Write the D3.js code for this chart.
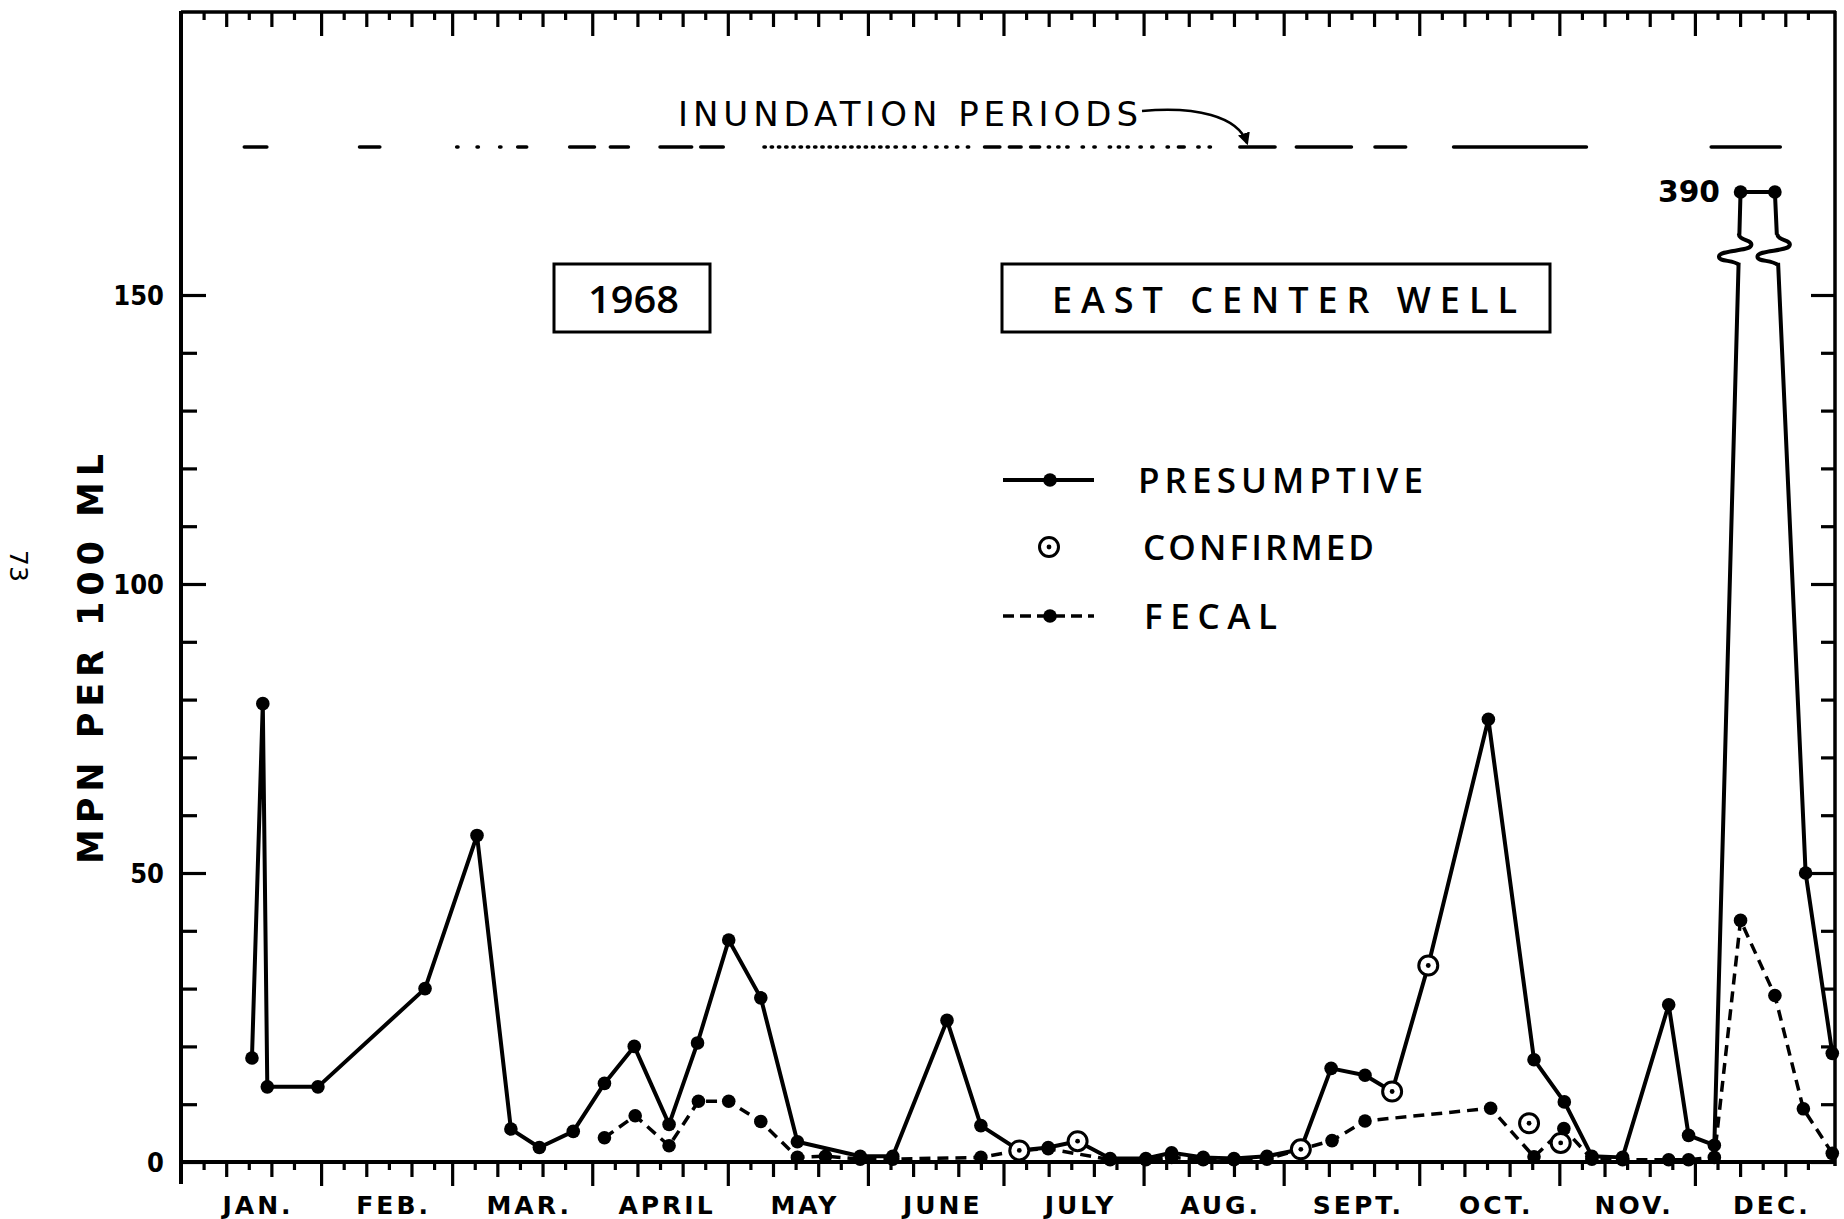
<!DOCTYPE html>
<html>
<head>
<meta charset="utf-8">
<script src="https://cdn.jsdelivr.net/npm/d3@7/dist/d3.min.js"></script>
<style>
  body { margin: 0; background: #fff; }
  text { font-family: "DejaVu Sans", sans-serif; fill: #000; }
</style>
</head>
<body>
<script>
// 1968 - East Center Well, MPN per 100 ml

var months = ["JAN.", "FEB.", "MAR.", "APRIL", "MAY", "JUNE", "JULY", "AUG.", "SEPT.", "OCT.", "NOV.", "DEC."];
var monthStarts = [0, 31, 60, 91, 121, 152, 182, 213, 244, 274, 305, 335, 366]; // day of year, 1968 (leap)
var yTicks = [0, 10, 20, 30, 40, 50, 60, 70, 80, 90, 100, 110, 120, 130, 140, 150];
var yLabels = [0, 50, 100, 150];

// presumptive (solid line)
var presDays = [15.7, 18.1, 19.1, 30.3, 54, 65.5, 73, 79.3, 86.8, 93.7, 100.3, 108, 114.3, 121.2, 128.3, 136.4,
  150.3, 157.5, 169.5, 177, 185.5, 191.9, 198.4, 205.6, 213.5, 219.2, 226.2, 233, 240.3, 247.8, 254.5, 262,
  268, 276, 289.3, 299.4, 306.1, 312.2, 319, 329.2, 333.6, 339.3, 345.1, 352.7, 359.5, 365.4];
var presVals = [18, 79.3, 13, 13, 30, 56.5, 5.7, 2.5, 5.3, 13.6, 20, 6.5, 20.6, 38.4, 28.4, 3.5,
  1, 1, 24.5, 6.3, 2.0, 2.5, 3.6, 0.6, 0.6, 1.6, 0.8, 0.6, 1, 2.2, 16.2, 15,
  12.2, 34, 76.6, 17.7, 10.4, 1, 0.8, 27.2, 4.6, 2.9, 390, 390, 50, 18.8];

// confirmed (open circles)
var confDays = [185.5, 198.4, 247.8, 268, 276, 298.3, 305.3];
var confVals = [2.0, 3.6, 2.2, 12.2, 34, 6.7, 3.3];

// fecal (dashed line)
var fecalDays = [93.7, 100.5, 108, 114.5, 121.2, 128.3, 136.4, 142.6, 150.3, 157.5, 177, 185.5, 191.9,
  205.6, 213.5, 219.2, 226.2, 233, 240.3, 247.8, 254.7, 262, 289.8, 299.4, 306, 312.2, 319, 329.2,
  333.6, 339.3, 345.1, 352.7, 359, 365.4];
var fecalVals = [4.2, 8, 2.8, 10.5, 10.5, 7, 0.8, 1, 0.5, 0.5, 0.8, 2.0, 2.3,
  0.4, 0.4, 0.8, 0.4, 0.4, 0.5, 2.2, 3.7, 7.1, 9.3, 0.9, 5.8, 0.5, 0.4, 0.4,
  0.4, 0.8, 41.8, 28.8, 9.2, 1.5];

// inundation periods, [from, to] in days
var inundation = [[14, 19], [39.5, 44], [61, 61.3], [65.5, 65.8], [70.5, 70.8], [74.5, 76.5],
  [86, 91.5], [95, 99], [106, 113], [115, 120],
  [129, 129.3], [130.6, 130.9], [132.2, 132.5], [133.8, 134.1], [135.4, 135.7], [137, 137.3], [138.6, 138.9],
  [140.2, 140.5], [141.8, 142.1], [143.4, 143.7], [145, 145.3], [146.6, 146.9], [148.2, 148.5], [149.8, 150.1],
  [151.4, 151.7], [153, 153.3], [154.6, 154.9], [156.2, 156.5], [158, 158.3], [160, 160.3], [162, 162.3],
  [164.5, 164.8], [167, 167.3], [169.2, 169.5], [171.6, 171.9], [174, 174.3], [177.8, 181.2], [183.3, 185.9],
  [188, 190], [191.9, 192.2], [194, 194.3], [196, 196.3], [199.4, 199.7], [202, 202.3], [205.4, 205.7],
  [207.4, 207.7], [209.3, 209.6], [212.2, 212.5], [214.8, 215.1], [218.2, 218.5], [220.7, 222],
  [225, 225.3], [227.5, 227.8], [234.3, 242.1], [246.8, 259], [264.2, 271], [281.6, 311], [338.6, 353.9]];

var breakVal = 158;

var svg = d3.select("body").append("svg")
    .attr("width", 1844)
    .attr("height", 1219);

var x = d3.scaleLinear().domain([0, 366]).range([181, 1835]);
// broken axis: everything above the break is squeezed so 390 sits just under the inundation line
var y = d3.scaleLinear().domain([0, breakVal, 390]).range([1162, 1162 - breakVal * 5.78, 192]);

//frame
svg.append("line").attr("x1", 181).attr("x2", 181).attr("y1", 11).attr("y2", 1184)
    .attr("stroke", "#000").attr("stroke-width", 4);
svg.append("line").attr("x1", 181).attr("x2", 1836).attr("y1", 12).attr("y2", 12)
    .attr("stroke", "#000").attr("stroke-width", 3.5);
svg.append("line").attr("x1", 1835).attr("x2", 1835).attr("y1", 11).attr("y2", 1166)
    .attr("stroke", "#000").attr("stroke-width", 3.5);
svg.append("line").attr("x1", 181).attr("x2", 1835).attr("y1", 1162).attr("y2", 1162)
    .attr("stroke", "#000").attr("stroke-width", 4);

// day ticks: 5 day steps, month ends long
var longT = [], medT = [], shortT = [];
for (var m = 0; m < 12; m++) {
    var s = monthStarts[m], e = monthStarts[m + 1];
    [5, 10, 15, 20, 25].forEach(function(k) {
        if (s + k < e - 1) {
            if (k == 10 || k == 20) medT.push(s + k); else shortT.push(s + k);
        }
    });
    if (m > 0) longT.push(s);
}

function dayTicks(yPos) {
    [[shortT, 8], [medT, 15], [longT, 24]].forEach(function(p) {
        var g = svg.append("g")
            .attr("transform", "translate(0," + yPos + ")")
            .call(d3.axisBottom(x).tickValues(p[0]).tickSize(p[1]).tickFormat(""));
        g.select(".domain").remove();
        g.selectAll("line").attr("stroke", "#000").attr("stroke-width", 3.2);
    });
}
dayTicks(12);
dayTicks(1162);

// month names
svg.append("g").selectAll("text")
    .data(months)
    .enter().append("text")
    .attr("x", function(d, i) { return x((monthStarts[i] + monthStarts[i + 1]) / 2) + 7; })
    .attr("y", 1214)
    .attr("text-anchor", "middle")
    .style("font-size", "25px")
    .style("font-weight", "bold")
    .style("letter-spacing", "3px")
    .text(function(d) { return d; });

// y axis, ticks inside the frame
var gy = svg.append("g").attr("transform", "translate(181,0)")
    .call(d3.axisLeft(y).tickValues(yTicks.filter(function(v) { return v % 50 != 0; })).tickSize(-16).tickFormat(""));
gy.select(".domain").remove();
gy.selectAll("line").attr("stroke", "#000").attr("stroke-width", 3.2);

var gy2 = svg.append("g").attr("transform", "translate(181,0)")
    .call(d3.axisLeft(y).tickValues(yLabels).tickSize(-25).tickPadding(17));
gy2.select(".domain").remove();
gy2.selectAll("line").attr("stroke", "#000").attr("stroke-width", 3.2);
gy2.selectAll("text")
    .style("font-family", "'DejaVu Sans Condensed', 'DejaVu Sans', sans-serif")
    .style("font-size", "27px")
    .style("font-weight", "bold")
    .attr("dy", "0.36em");

// right side ticks
var gr = svg.append("g").attr("transform", "translate(1835,0)")
    .call(d3.axisLeft(y).tickValues(yTicks).tickSize(14).tickFormat(""));
gr.select(".domain").remove();
gr.selectAll("line").attr("stroke", "#000").attr("stroke-width", 3.2)
    .attr("x2", function(d) { return d % 50 == 0 ? -24 : -14; });

// axis title
svg.append("text")
    .attr("transform", "translate(103,659) rotate(-90)")
    .attr("text-anchor", "middle")
    .attr("textLength", 410)
    .attr("lengthAdjust", "spacing")
    .style("font-size", "35px")
    .style("font-weight", "bold")
    .text("MPN  PER  100  ML");

// page number
svg.append("text")
    .attr("transform", "translate(10,566) rotate(90)")
    .attr("text-anchor", "middle")
    .style("font-size", "25px")
    .text("73");

// inundation periods
svg.append("g").selectAll("line")
    .data(inundation)
    .enter().append("line")
    .attr("x1", function(d) { return x(d[0]); })
    .attr("x2", function(d) { return x(d[1]); })
    .attr("y1", 147).attr("y2", 147)
    .attr("stroke", "#000")
    .attr("stroke-width", 3.5)
    .attr("stroke-linecap", "round");

svg.append("text")
    .attr("x", 678).attr("y", 126)
    .attr("textLength", 460)
    .attr("lengthAdjust", "spacing")
    .style("font-size", "34px")
    .text("INUNDATION  PERIODS");

svg.append("defs").append("marker")
    .attr("id", "head")
    .attr("viewBox", "0 0 10 10")
    .attr("refX", 8).attr("refY", 5)
    .attr("markerWidth", 5).attr("markerHeight", 5)
    .attr("orient", "auto")
    .append("path").attr("d", "M0,0L10,5L0,10z").attr("fill", "#000");

svg.append("path")
    .attr("d", "M1142,111 C1195,106 1238,116 1247,143")
    .attr("fill", "none")
    .attr("stroke", "#000")
    .attr("stroke-width", 2.5)
    .attr("marker-end", "url(#head)");

// title boxes
svg.append("rect").attr("x", 554).attr("y", 264).attr("width", 156).attr("height", 68)
    .attr("fill", "none").attr("stroke", "#000").attr("stroke-width", 3);
svg.append("text").attr("x", 588).attr("y", 313)
    .attr("textLength", 91).attr("lengthAdjust", "spacingAndGlyphs")
    .style("font-family", "'Open Sans', sans-serif")
    .style("font-size", "37px").style("font-weight", "600").text("1968");

svg.append("rect").attr("x", 1002).attr("y", 264).attr("width", 548).attr("height", 68)
    .attr("fill", "none").attr("stroke", "#000").attr("stroke-width", 3);
svg.append("text").attr("x", 1052).attr("y", 313)
    .attr("textLength", 465).attr("lengthAdjust", "spacing")
    .style("font-family", "'Open Sans', sans-serif")
    .style("font-size", "36px").style("font-weight", "600").text("EAST  CENTER  WELL");

// series
var pres = presDays.map(function(d, i) { return {day: d, val: presVals[i]}; });
var fecal = fecalDays.map(function(d, i) { return {day: d, val: fecalVals[i]}; });
var conf = confDays.map(function(d, i) { return {day: d, val: confVals[i]}; });

var line = d3.line()
    .x(function(d) { return x(d.day); })
    .y(function(d) { return y(d.val); });

svg.append("path")
    .datum(fecal)
    .attr("d", line)
    .attr("fill", "none")
    .attr("stroke", "#000")
    .attr("stroke-width", 3.5)
    .attr("stroke-dasharray", "11,7");

svg.append("path")
    .datum(pres)
    .attr("d", line)
    .attr("fill", "none")
    .attr("stroke", "#000")
    .attr("stroke-width", 4)
    .attr("stroke-linejoin", "round");

svg.append("g").selectAll("circle")
    .data(fecal)
    .enter().append("circle")
    .attr("cx", function(d) { return x(d.day); })
    .attr("cy", function(d) { return y(d.val); })
    .attr("r", 6.8)
    .attr("fill", "#000");

svg.append("g").selectAll("circle")
    .data(pres)
    .enter().append("circle")
    .attr("cx", function(d) { return x(d.day); })
    .attr("cy", function(d) { return y(d.val); })
    .attr("r", 6.8)
    .attr("fill", "#000");

// break marks where the presumptive line crosses into the squeezed part
for (var i = 0; i < pres.length - 1; i++) {
    var a = pres[i], b = pres[i + 1];
    if ((a.val - breakVal) * (b.val - breakVal) < 0) {
        var ya = y(a.val), yb = y(b.val), cy = y(breakVal);
        var cx = x(a.day) + (x(b.day) - x(a.day)) * (cy - ya) / (yb - ya);
        svg.append("rect").attr("x", cx - 4).attr("y", cy - 14).attr("width", 8).attr("height", 28).attr("fill", "#fff");
        svg.append("path")
            .attr("d", "M" + cx + "," + (cy - 15) +
                " C" + (cx - 1) + "," + (cy - 8) + " " + (cx + 15) + "," + (cy - 9) + " " + (cx + 12) + "," + (cy - 3) +
                " C" + (cx + 9) + "," + (cy + 3) + " " + (cx - 20) + "," + (cy + 1) + " " + (cx - 20) + "," + (cy + 8) +
                " C" + (cx - 20) + "," + (cy + 13) + " " + (cx - 6) + "," + (cy + 11) + " " + cx + "," + (cy + 16))
            .attr("fill", "none").attr("stroke", "#000").attr("stroke-width", 4);
    }
}

// confirmed circles on top
var cg = svg.append("g").selectAll("g")
    .data(conf)
    .enter().append("g")
    .attr("transform", function(d) { return "translate(" + x(d.day) + "," + y(d.val) + ")"; });
cg.append("circle").attr("r", 9.5).attr("fill", "#fff").attr("stroke", "#000").attr("stroke-width", 3);
cg.append("circle").attr("r", 2.4).attr("fill", "#000");

// 390 label
svg.append("text")
    .attr("x", 1720).attr("y", 202)
    .attr("text-anchor", "end")
    .attr("textLength", 62)
    .attr("lengthAdjust", "spacingAndGlyphs")
    .style("font-size", "30px")
    .style("font-weight", "bold")
    .text("390");

// legend
var lg = svg.append("g");
lg.append("line").attr("x1", 1003).attr("x2", 1094).attr("y1", 480).attr("y2", 480)
    .attr("stroke", "#000").attr("stroke-width", 4);
lg.append("circle").attr("cx", 1050).attr("cy", 480).attr("r", 6.8);
lg.append("text").attr("x", 1138).attr("y", 493).attr("textLength", 285).attr("lengthAdjust", "spacing")
    .style("font-family", "'Open Sans', sans-serif")
    .style("font-size", "35px").style("font-weight", "600").text("PRESUMPTIVE");

lg.append("circle").attr("cx", 1049).attr("cy", 547).attr("r", 9.5)
    .attr("fill", "#fff").attr("stroke", "#000").attr("stroke-width", 3);
lg.append("circle").attr("cx", 1049).attr("cy", 547).attr("r", 2.4);
lg.append("text").attr("x", 1143).attr("y", 560).attr("textLength", 231).attr("lengthAdjust", "spacing")
    .style("font-family", "'Open Sans', sans-serif")
    .style("font-size", "35px").style("font-weight", "600").text("CONFIRMED");

lg.append("line").attr("x1", 1003).attr("x2", 1094).attr("y1", 616).attr("y2", 616)
    .attr("stroke", "#000").attr("stroke-width", 3.5).attr("stroke-dasharray", "11,6");
lg.append("circle").attr("cx", 1050).attr("cy", 616).attr("r", 6.8);
lg.append("text").attr("x", 1144).attr("y", 629).attr("textLength", 133).attr("lengthAdjust", "spacing")
    .style("font-family", "'Open Sans', sans-serif")
    .style("font-size", "35px").style("font-weight", "600").text("FECAL");
</script>
</body>
</html>
